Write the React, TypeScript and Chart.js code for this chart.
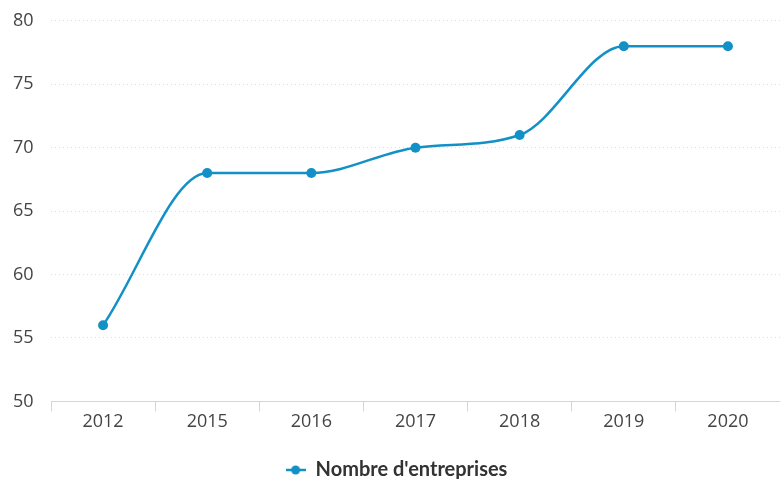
import React, { useEffect, useRef } from "react";
import { Chart, registerables } from "chart.js";

Chart.register(...registerables);

const categories = ["2012", "2015", "2016", "2017", "2018", "2019", "2020"];
const values = [56, 68, 68, 70, 71, 78, 78];
const seriesName = "Nombre d'entreprises";
const yMin = 50;
const yMax = 80;
const yStep = 5;

const LINE = "#1391c6";

function legendIcon(): HTMLCanvasElement {
  const c = document.createElement("canvas");
  c.width = 20;
  c.height = 12;
  const ctx = c.getContext("2d")!;
  ctx.strokeStyle = LINE;
  ctx.lineWidth = 2.5;
  ctx.beginPath();
  ctx.moveTo(0, 6);
  ctx.lineTo(20, 6);
  ctx.stroke();
  ctx.fillStyle = LINE;
  ctx.beginPath();
  ctx.arc(10, 6, 4.5, 0, Math.PI * 2);
  ctx.fill();
  return c;
}

export default function App() {
  const ref = useRef<HTMLCanvasElement | null>(null);
  useEffect(() => {
    document.body.style.margin = "0";
    const icon = legendIcon();
    const chart = new Chart(ref.current!, {
      type: "line",
      data: {
        labels: categories,
        datasets: [
          {
            label: seriesName,
            data: values,
            borderColor: LINE,
            backgroundColor: LINE,
            borderWidth: 2.5,
            pointRadius: 5,
            pointBackgroundColor: LINE,
            pointBorderWidth: 0,
            cubicInterpolationMode: "monotone",
            fill: false,
          },
        ],
      },
      options: {
        animation: false,
        responsive: false,
        maintainAspectRatio: false,
        layout: { autoPadding: false, padding: { top: 0, right: 0, left: 13, bottom: -11 } },
        plugins: {
          tooltip: { enabled: false },
          legend: {
            position: "bottom",
            labels: {
              usePointStyle: true,
              color: "#333333",
              font: { family: "Lato", size: 20, weight: "bold" },
              padding: 27,
              generateLabels: () => [
                {
                  text: seriesName,
                  pointStyle: icon,
                  fillStyle: LINE,
                  strokeStyle: LINE,
                  lineWidth: 0,
                  hidden: false,
                  datasetIndex: 0,
                  fontColor: "#333333",
                },
              ],
            },
          },
        },
        scales: {
          x: {
            offset: true,
            border: { display: true, color: "#ccd6eb", width: 1 },
            grid: {
              offset: true,
              drawOnChartArea: false,
              drawTicks: true,
              tickLength: 10,
              color: "#ccd6eb",
            },
            ticks: {
              color: "#444444",
              font: { family: "Open Sans", size: 18 },
              padding: 0,
            },
          },
          y: {
            min: yMin,
            max: yMax,
            border: { display: false, dash: [1, 3] },
            grid: {
              drawTicks: false,
              color: "#dddddd",
              lineWidth: 1,
            },
            afterFit: (s: any) => {
              s.width = 38;
            },
            ticks: {
              stepSize: yStep,
              color: "#444444",
              crossAlign: "far",
              font: { family: "Open Sans", size: 18 },
              padding: 10,
            },
          },
        },
      },
    });
    return () => chart.destroy();
  }, []);
  return (
    <div style={{ width: 780, height: 479 }}>
      <canvas ref={ref} width={780} height={479} />
    </div>
  );
}
